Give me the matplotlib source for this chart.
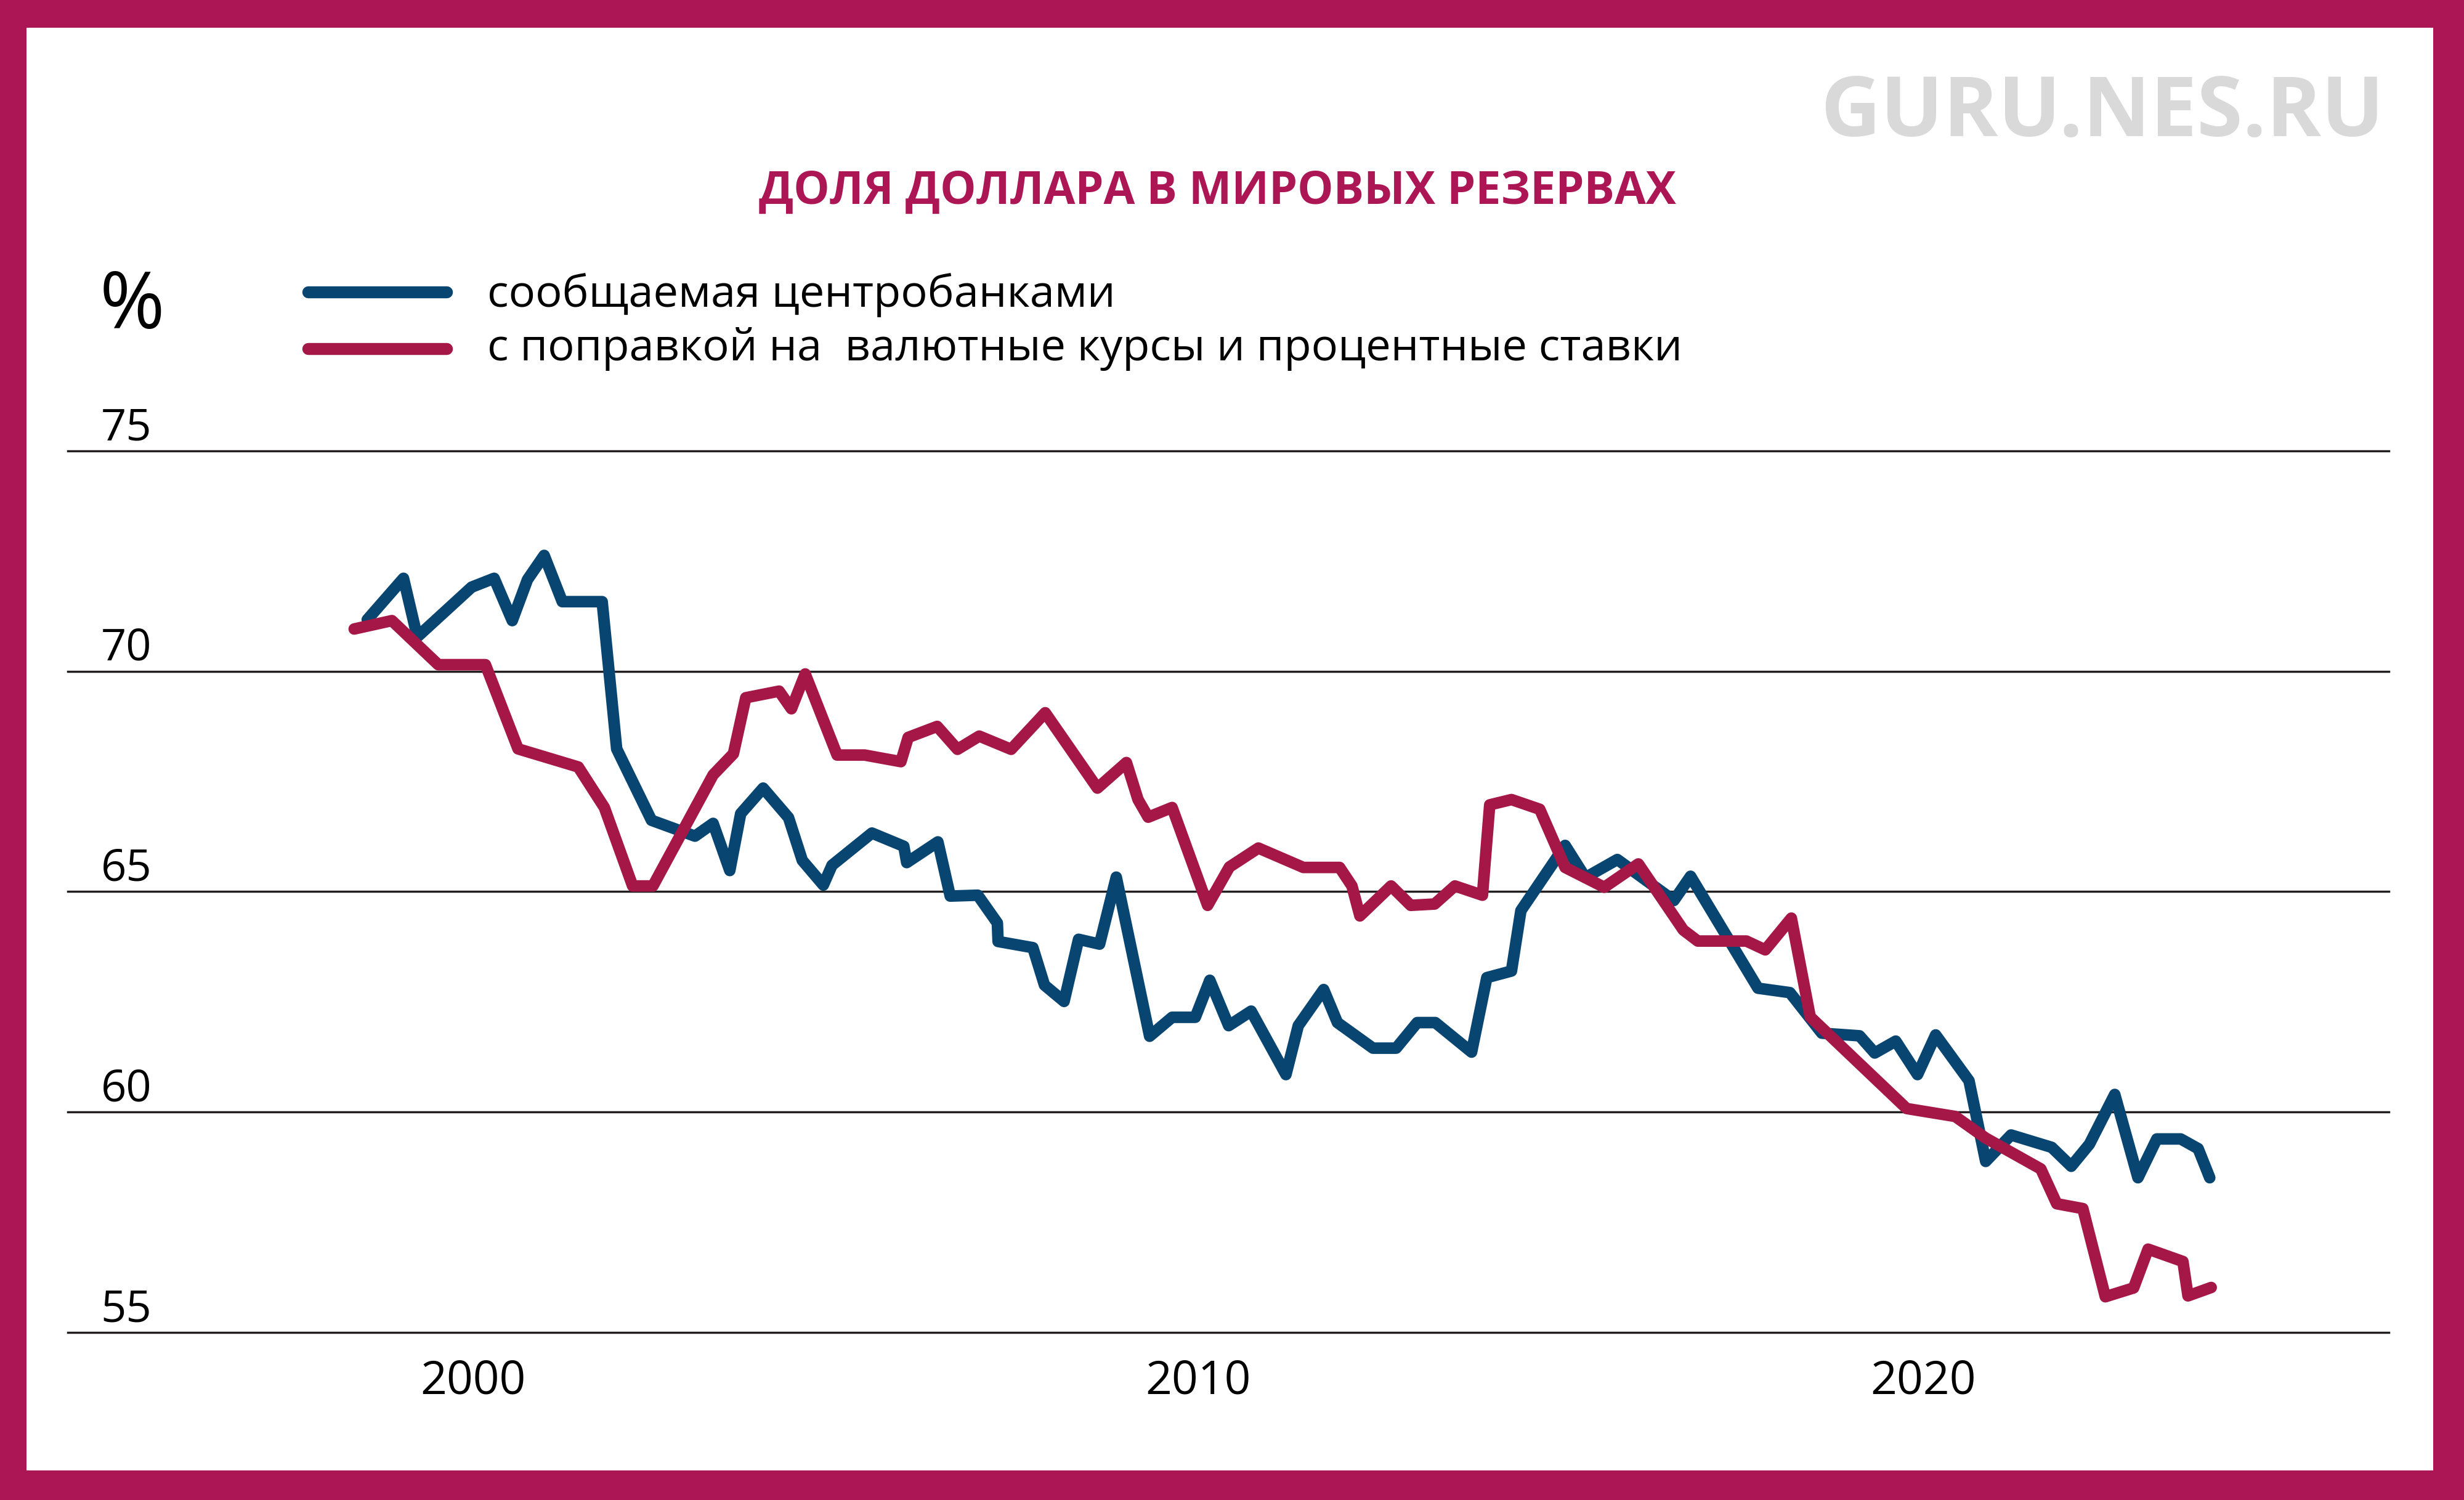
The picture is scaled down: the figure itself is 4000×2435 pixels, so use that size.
import matplotlib.pyplot as plt
import matplotlib.transforms as mtransforms
from matplotlib.patches import Rectangle
from matplotlib.lines import Line2D

plt.rcParams['font.family'] = ['Open Sans', 'DejaVu Sans']

# share of USD reported by central banks, %
blue_years = [1998.54, 1999.04, 1999.23, 1999.98, 2000.29, 2000.54, 2000.75, 2000.98,
              2001.23, 2001.78, 2001.98, 2002.46, 2003.06, 2003.31, 2003.54, 2003.69,
              2004.00, 2004.35, 2004.54, 2004.83, 2004.95, 2005.50, 2005.94, 2005.98,
              2006.41, 2006.58, 2006.96, 2007.23, 2007.24, 2007.72, 2007.88, 2008.15,
              2008.35, 2008.64, 2008.87, 2009.33, 2009.64, 2009.96, 2010.16, 2010.42,
              2010.73, 2011.21, 2011.38, 2011.73, 2011.92, 2012.41, 2012.73, 2013.02,
              2013.27, 2013.77, 2013.98, 2014.32, 2014.45, 2015.06, 2015.34, 2015.78,
              2016.56, 2016.79, 2017.72, 2018.16, 2018.60, 2019.12, 2019.33, 2019.62,
              2019.92, 2020.17, 2020.63, 2020.86, 2021.21, 2021.77, 2022.04, 2022.29,
              2022.64, 2022.96, 2023.22, 2023.55, 2023.79, 2023.95]
blue_share = [71.17, 72.11, 70.78, 71.91, 72.11, 71.15, 72.08, 72.63,
              71.58, 71.58, 68.24, 66.62, 66.26, 66.55, 65.48, 66.77,
              67.35, 66.68, 65.71, 65.15, 65.60, 66.33, 66.03, 65.66,
              66.13, 64.90, 64.92, 64.29, 63.87, 63.73, 62.88, 62.51,
              63.92, 63.81, 65.33, 61.72, 62.15, 62.15, 62.99, 61.96,
              62.29, 60.85, 61.96, 62.78, 62.03, 61.45, 61.45, 62.03,
              62.03, 61.36, 63.05, 63.20, 64.57, 66.05, 65.32, 65.73,
              64.80, 65.35, 62.81, 62.71, 61.79, 61.73, 61.34, 61.61,
              60.85, 61.75, 60.71, 58.88, 59.48, 59.20, 58.77, 59.27,
              60.40, 58.51, 59.39, 59.39, 59.17, 58.51]

# share adjusted for exchange rates and interest rates, %
red_years = [1998.36, 1998.88, 1999.52, 2000.17, 2000.62, 2001.45, 2001.81, 2002.20,
             2002.48, 2003.31, 2003.59, 2003.76, 2004.22, 2004.39, 2004.58, 2005.02,
             2005.40, 2005.90, 2006.00, 2006.40, 2006.68, 2006.98, 2007.42, 2007.89,
             2008.61, 2009.01, 2009.17, 2009.31, 2009.64, 2010.13, 2010.43, 2010.83,
             2011.45, 2011.95, 2012.12, 2012.23, 2012.66, 2012.93, 2013.26, 2013.54,
             2013.92, 2014.02, 2014.32, 2014.71, 2015.06, 2015.60, 2016.07, 2016.69,
             2016.89, 2017.56, 2017.82, 2018.18, 2018.44, 2019.77, 2020.44, 2020.86,
             2021.62, 2021.84, 2022.20, 2022.51, 2022.90, 2023.10, 2023.58, 2023.65,
             2023.97]
red_share = [70.96, 71.15, 70.15, 70.15, 68.24, 67.83, 66.91, 65.13,
             65.13, 67.65, 68.13, 69.40, 69.55, 69.15, 69.94, 68.10,
             68.10, 67.95, 68.50, 68.75, 68.23, 68.53, 68.23, 69.06,
             67.35, 67.93, 67.09, 66.69, 66.91, 64.69, 65.56, 65.99,
             65.55, 65.55, 65.13, 64.45, 65.13, 64.69, 64.72, 65.13,
             64.92, 66.97, 67.09, 66.87, 65.55, 65.10, 65.63, 64.13,
             63.88, 63.88, 63.68, 64.40, 62.16, 60.08, 59.90, 59.41,
             58.71, 57.92, 57.81, 55.81, 56.01, 56.89, 56.61, 55.83,
             56.02]

y_ticks = [55, 60, 65, 70, 75]
x_ticks = [2000, 2010, 2020]
labels = ['сообщаемая центробанками',
          'с поправкой на  валютные курсы и процентные ставки']

BLUE = '#084571'
RED = '#A51746'
FRAME = '#AC1655'
W, H = 4000, 2435

fig = plt.figure(figsize=(40, 24.35), dpi=100, facecolor=FRAME)
fig.patches.append(Rectangle((43 / W, 1 - 2387 / H), (3950 - 43) / W, (2387 - 45) / H,
                             transform=fig.transFigure, fc='white', ec='none', zorder=-1))

ax = fig.add_axes([110 / W, 1 - 2163 / H, 3768 / W, (2163 - 732) / H])
ax.set_xlim(1994.41, 2026.42)
ax.set_ylim(55, 75)
ax.axis('off')

for v in y_ticks:
    ax.axhline(v, color='#231F20', lw=2.5, clip_on=False, zorder=1)

ax.plot(blue_years, blue_share, color=BLUE, lw=13.5, solid_capstyle='round',
        solid_joinstyle='round', clip_on=False, zorder=3)
ax.plot(red_years, red_share, color=RED, lw=13.5, solid_capstyle='round',
        solid_joinstyle='round', clip_on=False, zorder=4)

trans = mtransforms.blended_transform_factory(ax.transAxes, ax.transData)
for v in y_ticks:
    ax.text(0.0142, v + 0.25, str(v), transform=trans, ha='left', va='baseline',
            fontsize=52, color='black')
for yr in x_ticks:
    ax.text(yr, 53.88, str(yr), ha='center', va='center', fontsize=54, color='black')

# header
fig.text(3870 / W, 1 - 186 / H, 'GURU.NES.RU', ha='right', va='center',
         fontsize=97, fontweight='bold', color='#D9D9D9')
fig.text(1976 / W, 1 - 312 / H, 'ДОЛЯ ДОЛЛАРА В МИРОВЫХ РЕЗЕРВАХ', ha='center',
         va='center', fontsize=53, fontweight='bold', color=FRAME)
fig.text(162 / W, 1 - 500 / H, '%', ha='left', va='center', fontsize=92, color='black')

# legend
for ly, base, col, lab in [(474, 498, BLUE, labels[0]), (566, 585, RED, labels[1])]:
    fig.add_artist(Line2D([500 / W, 725 / W], [1 - ly / H] * 2, transform=fig.transFigure,
                          color=col, lw=14, solid_capstyle='round'))
    fig.text(791 / W, 1 - base / H, lab, ha='left', va='baseline', fontsize=52, color='black')

fig.savefig('out.png', dpi=100, facecolor=FRAME)
